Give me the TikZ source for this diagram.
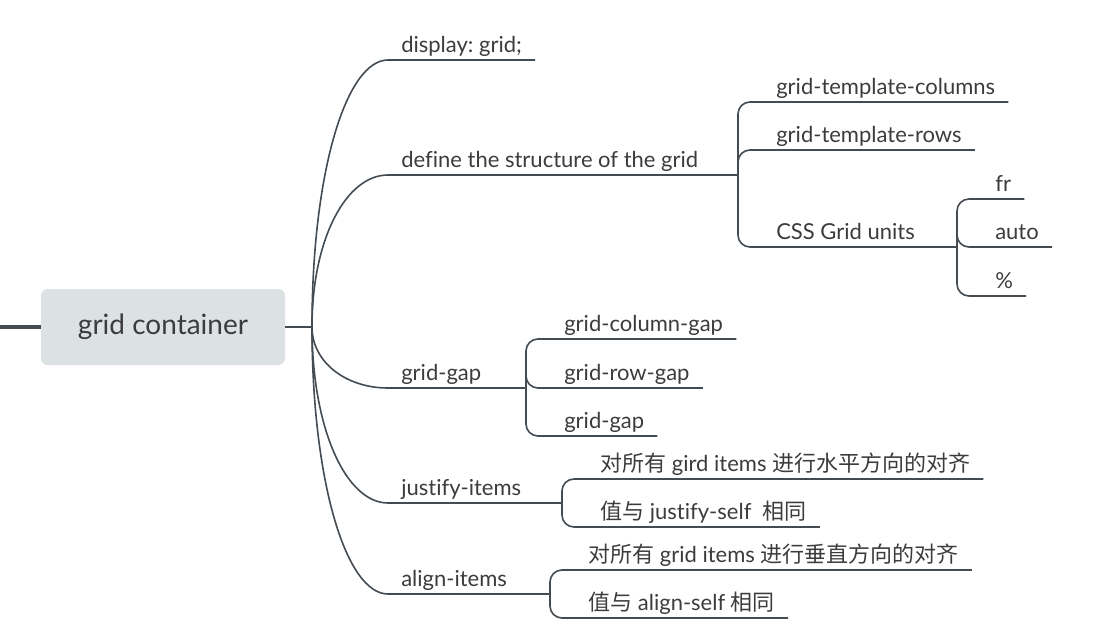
\documentclass[tikz,border=0pt]{standalone}
\usepackage{fontspec}
\setmainfont{Lato}[Ligatures=NoCommon]
\newfontfamily\cjk{Noto Sans CJK SC}
\usetikzlibrary{calc}
\frenchspacing

\definecolor{linecol}{HTML}{434B53}
\definecolor{textcol}{HTML}{3C3C3C}
\definecolor{rootfill}{HTML}{DCE2E4}

\tikzset{
    branch/.style={anchor=south west, inner xsep=9.75pt, inner ysep=5.25pt,
        text depth=0pt, text=textcol, font=\fontsize{16.5}{18}\selectfont},
    rootbox/.style={fill=rootfill, rounded corners=5pt, minimum width=183pt,
        minimum height=57pt, text=textcol, font=\fontsize{21}{24}\selectfont},
    conn/.style={draw=linecol, line width=1.2pt},
    stub/.style={draw=linecol, line width=1.9pt},
    elbow/.style={conn, rounded corners=9pt},
}

\begin{document}
\begin{tikzpicture}[x=0.75pt, y=-0.75pt]
    \useasboundingbox (0,0) rectangle (1103,638);

    % Root
    \node[rootbox] (root) at (163,327) {grid container};
    \coordinate (lend) at (0,327);
    \coordinate (hub) at (312,327);
    \draw[stub, line width=2.3pt] (lend) -- (root.west);
    \draw[stub] (root.east) -- (hub);

    % First level
    \node[branch] (display) at (388,60) {display: grid;};
    \node[branch] (define) at (388,175) {define the structure of the grid};
    \node[branch] (gap) at (388,388) {grid-gap};
    \node[branch] (justify) at (388,503) {justify-items};
    \node[branch] (align) at (388,594) {align-items};

    \foreach \n in {display,define,gap,justify,align} {
        \draw[conn] (hub) .. controls ($(hub|-\n.south west)!0.42!(hub)$)
            and ($(hub|-\n.south west)!0.45!(\n.south west)$) .. (\n.south west)
            -- (\n.south east);
    }

    % Sub hubs
    \coordinate (defhub) at (738,175);
    \coordinate (gaphub) at (526,388);
    \coordinate (justhub) at (562,503);
    \coordinate (alignhub) at (550,594);
    \coordinate (unithub) at (957,247);
    \draw[stub] (define.south east) -- (defhub);
    \draw[stub] (gap.south east) -- (gaphub);
    \draw[stub] (justify.south east) -- (justhub);
    \draw[stub] (align.south east) -- (alignhub);

    % define the structure of the grid
    \node[branch] (cols) at (763,102) {grid-template-columns};
    \node[branch] (rows) at (763,150) {grid-template-rows};
    \node[branch] (units) at (763,247) {CSS Grid units};
    \foreach \n in {cols,rows,units}
        \draw[elbow] (defhub) |- (\n.south west) -- (\n.south east);
    \draw[stub] (units.south east) -- (unithub);

    % CSS Grid units
    \node[branch] (fr) at (982,199) {fr};
    \node[branch] (auto) at (982,247) {auto};
    \node[branch] (pct) at (982,296) {\%};
    \foreach \n in {fr,auto,pct}
        \draw[elbow] (unithub) |- (\n.south west) -- (\n.south east);

    % grid-gap
    \node[branch] (colgap) at (551,339) {grid-column-gap};
    \node[branch] (rowgap) at (551,388) {grid-row-gap};
    \node[branch] (gridgap) at (551,436) {grid-gap};
    \foreach \n in {colgap,rowgap,gridgap}
        \draw[elbow] (gaphub) |- (\n.south west) -- (\n.south east);

    % justify-items
    \node[branch] (justall) at (587,479) {{\cjk 对所有} gird items {\cjk 进行水平方向的对齐}};
    \node[branch] (justself) at (587,527) {{\cjk 值与} justify-self\ \ {\cjk 相同}};
    \foreach \n in {justall,justself}
        \draw[elbow] (justhub) |- (\n.south west) -- (\n.south east);

    % align-items
    \node[branch] (alignall) at (575,570) {{\cjk 对所有} grid items {\cjk 进行垂直方向的对齐}};
    \node[branch] (alignself) at (575,618) {{\cjk 值与} align-self {\cjk 相同}};
    \foreach \n in {alignall,alignself}
        \draw[elbow] (alignhub) |- (\n.south west) -- (\n.south east);
\end{tikzpicture}
\end{document}
